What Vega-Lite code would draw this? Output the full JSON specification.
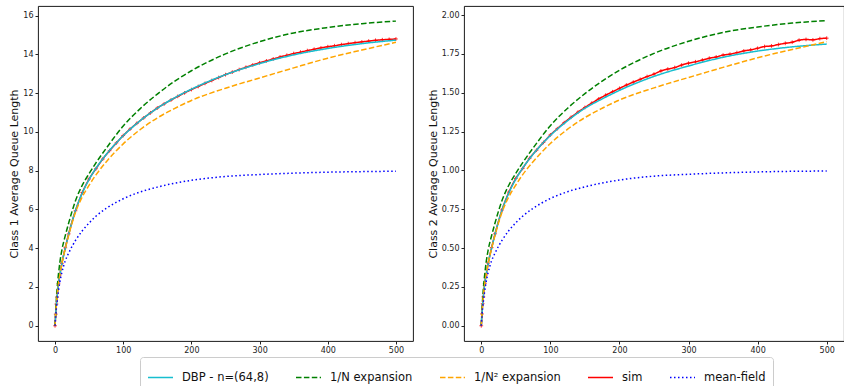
{
  "$schema": "https://vega.github.io/schema/vega-lite/v6.json",
  "padding": {"left": 8, "top": 5, "right": 0, "bottom": 0},
  "config": {
    "font": "DejaVu Sans",
    "view": {"stroke": "#000000", "strokeWidth": 0.9},
    "axis": {"grid": false, "domain": false, "labelFont": "DejaVu Sans", "labelFontSize": 8, "labelColor": "#222222", "tickColor": "#222222", "tickSize": 3, "labelPadding": 2, "titleFont": "DejaVu Sans", "titleFontSize": 11, "titleFontWeight": "normal", "titleColor": "#111111", "titlePadding": 3},
    "legend": {"labelFont": "DejaVu Sans", "labelFontSize": 11.5, "labelColor": "#111111"}
  },
  "datasets": {
    "curves": [
      {"s":"DBP - n=(64,8)","t":0,"a":0,"b":0},{"s":"DBP - n=(64,8)","t":1,"a":0.62,"b":0.078},{"s":"DBP - n=(64,8)","t":2,"a":1.1,"b":0.138},{"s":"DBP - n=(64,8)","t":3,"a":1.5,"b":0.188},{"s":"DBP - n=(64,8)","t":5,"a":2.15,"b":0.269},{"s":"DBP - n=(64,8)","t":7,"a":2.6,"b":0.325},{"s":"DBP - n=(64,8)","t":10,"a":3.2,"b":0.4},{"s":"DBP - n=(64,8)","t":15,"a":4.0,"b":0.5},{"s":"DBP - n=(64,8)","t":20,"a":4.72,"b":0.59},{"s":"DBP - n=(64,8)","t":30,"a":5.95,"b":0.744},{"s":"DBP - n=(64,8)","t":40,"a":6.85,"b":0.856},{"s":"DBP - n=(64,8)","t":50,"a":7.55,"b":0.944},{"s":"DBP - n=(64,8)","t":60,"a":8.12,"b":1.015},{"s":"DBP - n=(64,8)","t":75,"a":8.83,"b":1.104},{"s":"DBP - n=(64,8)","t":100,"a":9.8,"b":1.225},{"s":"DBP - n=(64,8)","t":125,"a":10.58,"b":1.32},{"s":"DBP - n=(64,8)","t":150,"a":11.22,"b":1.4},{"s":"DBP - n=(64,8)","t":175,"a":11.75,"b":1.46},{"s":"DBP - n=(64,8)","t":200,"a":12.2,"b":1.515},{"s":"DBP - n=(64,8)","t":250,"a":12.95,"b":1.605},{"s":"DBP - n=(64,8)","t":300,"a":13.52,"b":1.672},{"s":"DBP - n=(64,8)","t":350,"a":13.97,"b":1.728},{"s":"DBP - n=(64,8)","t":400,"a":14.3,"b":1.768},{"s":"DBP - n=(64,8)","t":450,"a":14.55,"b":1.795},{"s":"DBP - n=(64,8)","t":500,"a":14.73,"b":1.813},
      {"s":"1/N expansion","t":0,"a":0,"b":0},{"s":"1/N expansion","t":1,"a":0.75,"b":0.094},{"s":"1/N expansion","t":2,"a":1.4,"b":0.175},{"s":"1/N expansion","t":3,"a":1.9,"b":0.238},{"s":"1/N expansion","t":5,"a":2.65,"b":0.331},{"s":"1/N expansion","t":7,"a":3.25,"b":0.406},{"s":"1/N expansion","t":10,"a":3.9,"b":0.488},{"s":"1/N expansion","t":15,"a":4.65,"b":0.581},{"s":"1/N expansion","t":20,"a":5.3,"b":0.663},{"s":"1/N expansion","t":30,"a":6.45,"b":0.806},{"s":"1/N expansion","t":40,"a":7.25,"b":0.906},{"s":"1/N expansion","t":50,"a":7.85,"b":0.981},{"s":"1/N expansion","t":60,"a":8.4,"b":1.05},{"s":"1/N expansion","t":75,"a":9.15,"b":1.144},{"s":"1/N expansion","t":100,"a":10.3,"b":1.288},{"s":"1/N expansion","t":125,"a":11.2,"b":1.4},{"s":"1/N expansion","t":150,"a":11.95,"b":1.494},{"s":"1/N expansion","t":175,"a":12.6,"b":1.575},{"s":"1/N expansion","t":200,"a":13.15,"b":1.644},{"s":"1/N expansion","t":250,"a":14.02,"b":1.753},{"s":"1/N expansion","t":300,"a":14.65,"b":1.831},{"s":"1/N expansion","t":350,"a":15.1,"b":1.888},{"s":"1/N expansion","t":400,"a":15.38,"b":1.923},{"s":"1/N expansion","t":450,"a":15.58,"b":1.948},{"s":"1/N expansion","t":500,"a":15.71,"b":1.964},
      {"s":"1/N² expansion","t":0,"a":0,"b":0},{"s":"1/N² expansion","t":1,"a":0.62,"b":0.078},{"s":"1/N² expansion","t":2,"a":1.1,"b":0.138},{"s":"1/N² expansion","t":3,"a":1.5,"b":0.188},{"s":"1/N² expansion","t":5,"a":2.15,"b":0.269},{"s":"1/N² expansion","t":7,"a":2.6,"b":0.325},{"s":"1/N² expansion","t":10,"a":3.2,"b":0.4},{"s":"1/N² expansion","t":15,"a":3.98,"b":0.498},{"s":"1/N² expansion","t":20,"a":4.67,"b":0.584},{"s":"1/N² expansion","t":30,"a":5.85,"b":0.731},{"s":"1/N² expansion","t":40,"a":6.65,"b":0.831},{"s":"1/N² expansion","t":50,"a":7.25,"b":0.906},{"s":"1/N² expansion","t":60,"a":7.78,"b":0.973},{"s":"1/N² expansion","t":75,"a":8.45,"b":1.056},{"s":"1/N² expansion","t":100,"a":9.38,"b":1.173},{"s":"1/N² expansion","t":125,"a":10.12,"b":1.265},{"s":"1/N² expansion","t":150,"a":10.72,"b":1.34},{"s":"1/N² expansion","t":175,"a":11.2,"b":1.4},{"s":"1/N² expansion","t":200,"a":11.62,"b":1.453},{"s":"1/N² expansion","t":250,"a":12.25,"b":1.531},{"s":"1/N² expansion","t":300,"a":12.78,"b":1.598},{"s":"1/N² expansion","t":350,"a":13.3,"b":1.663},{"s":"1/N² expansion","t":400,"a":13.8,"b":1.725},{"s":"1/N² expansion","t":450,"a":14.22,"b":1.778},{"s":"1/N² expansion","t":500,"a":14.62,"b":1.828},
      {"s":"mean-field","t":0,"a":0,"b":0},{"s":"mean-field","t":1,"a":0.5,"b":0.063},{"s":"mean-field","t":2,"a":0.9,"b":0.113},{"s":"mean-field","t":3,"a":1.25,"b":0.156},{"s":"mean-field","t":5,"a":1.8,"b":0.225},{"s":"mean-field","t":7,"a":2.25,"b":0.281},{"s":"mean-field","t":10,"a":2.75,"b":0.344},{"s":"mean-field","t":15,"a":3.35,"b":0.419},{"s":"mean-field","t":20,"a":3.75,"b":0.469},{"s":"mean-field","t":30,"a":4.4,"b":0.55},{"s":"mean-field","t":40,"a":4.9,"b":0.613},{"s":"mean-field","t":50,"a":5.3,"b":0.663},{"s":"mean-field","t":60,"a":5.65,"b":0.706},{"s":"mean-field","t":75,"a":6.05,"b":0.756},{"s":"mean-field","t":100,"a":6.55,"b":0.819},{"s":"mean-field","t":125,"a":6.9,"b":0.863},{"s":"mean-field","t":150,"a":7.15,"b":0.894},{"s":"mean-field","t":175,"a":7.35,"b":0.919},{"s":"mean-field","t":200,"a":7.5,"b":0.938},{"s":"mean-field","t":250,"a":7.7,"b":0.963},{"s":"mean-field","t":300,"a":7.8,"b":0.975},{"s":"mean-field","t":350,"a":7.87,"b":0.984},{"s":"mean-field","t":400,"a":7.92,"b":0.99},{"s":"mean-field","t":450,"a":7.95,"b":0.994},{"s":"mean-field","t":500,"a":7.97,"b":0.996}
    ],
    "sim": [
      {"s":"sim","t":0,"a":0,"b":0},{"s":"sim","t":1,"a":0.6,"b":0.076},{"s":"sim","t":2,"a":1.12,"b":0.142},{"s":"sim","t":3,"a":1.48,"b":0.186},{"s":"sim","t":5,"a":2.17,"b":0.272},{"s":"sim","t":7,"a":2.62,"b":0.327},{"s":"sim","t":10,"a":3.22,"b":0.403},{"s":"sim","t":15,"a":4.02,"b":0.503},{"s":"sim","t":20,"a":4.74,"b":0.592},{"s":"sim","t":30,"a":5.93,"b":0.745},{"s":"sim","t":40,"a":6.87,"b":0.86},{"s":"sim","t":50,"a":7.57,"b":0.948},{"s":"sim","t":60,"a":8.1,"b":1.013},{"s":"sim","t":70,"a":8.6,"b":1.078},{"s":"sim","t":80,"a":9.03,"b":1.13},{"s":"sim","t":90,"a":9.43,"b":1.18},{"s":"sim","t":100,"a":9.81,"b":1.228},{"s":"sim","t":110,"a":10.14,"b":1.268},{"s":"sim","t":120,"a":10.44,"b":1.307},{"s":"sim","t":130,"a":10.72,"b":1.342},{"s":"sim","t":140,"a":10.98,"b":1.375},{"s":"sim","t":150,"a":11.23,"b":1.405},{"s":"sim","t":160,"a":11.44,"b":1.433},{"s":"sim","t":170,"a":11.64,"b":1.46},{"s":"sim","t":180,"a":11.83,"b":1.484},{"s":"sim","t":190,"a":12.01,"b":1.506},{"s":"sim","t":200,"a":12.18,"b":1.528},{"s":"sim","t":210,"a":12.34,"b":1.549},{"s":"sim","t":220,"a":12.5,"b":1.568},{"s":"sim","t":230,"a":12.65,"b":1.586},{"s":"sim","t":240,"a":12.8,"b":1.604},{"s":"sim","t":250,"a":12.95,"b":1.62},{"s":"sim","t":260,"a":13.08,"b":1.64},{"s":"sim","t":270,"a":13.21,"b":1.652},{"s":"sim","t":280,"a":13.33,"b":1.662},{"s":"sim","t":290,"a":13.45,"b":1.678},{"s":"sim","t":300,"a":13.56,"b":1.69},{"s":"sim","t":310,"a":13.66,"b":1.699},{"s":"sim","t":320,"a":13.76,"b":1.71},{"s":"sim","t":330,"a":13.86,"b":1.722},{"s":"sim","t":340,"a":13.95,"b":1.73},{"s":"sim","t":350,"a":14.04,"b":1.742},{"s":"sim","t":360,"a":14.11,"b":1.748},{"s":"sim","t":370,"a":14.19,"b":1.758},{"s":"sim","t":380,"a":14.26,"b":1.769},{"s":"sim","t":390,"a":14.33,"b":1.776},{"s":"sim","t":400,"a":14.39,"b":1.786},{"s":"sim","t":410,"a":14.44,"b":1.797},{"s":"sim","t":420,"a":14.5,"b":1.801},{"s":"sim","t":430,"a":14.55,"b":1.81},{"s":"sim","t":440,"a":14.6,"b":1.818},{"s":"sim","t":450,"a":14.64,"b":1.825},{"s":"sim","t":460,"a":14.68,"b":1.838},{"s":"sim","t":470,"a":14.72,"b":1.843},{"s":"sim","t":480,"a":14.75,"b":1.84},{"s":"sim","t":490,"a":14.77,"b":1.848},{"s":"sim","t":500,"a":14.79,"b":1.851}
    ]
  },
  "spacing": 12,
  "resolve": {"scale": {"color": "shared", "strokeDash": "shared"}},
  "hconcat": [
    {
      "width": 375, "height": 335,
      "layer": [
        {
          "data": {"name": "sim"},
          "mark": {"type": "line", "strokeWidth": 1.5, "interpolate": "monotone"},
          "encoding": {
            "x": {"field": "t", "type": "quantitative", "scale": {"domain": [-25, 525], "nice": false, "zero": false}, "axis": {"values": [0,100,200,300,400,500], "title": null}},
            "y": {"field": "a", "type": "quantitative", "scale": {"domain": [-0.785, 16.49], "nice": false, "zero": false}, "axis": {"values": [0,2,4,6,8,10,12,14,16], "title": "Class 1 Average Queue Length"}},
            "color": {"field": "s", "type": "nominal", "scale": {"domain": ["DBP - n=(64,8)","1/N expansion","1/N² expansion","sim","mean-field"], "range": ["#17becf","#008000","#ffa500","#ff0000","#0000ff"]}, "legend": {"title": null, "orient": "none", "legendX": 102, "legendY": 351, "direction": "horizontal", "symbolType": "stroke", "symbolSize": 625, "symbolStrokeWidth": 1.5, "labelOffset": 8, "columnPadding": 24, "padding": 7, "strokeColor": "#cccccc", "fillColor": "#ffffff", "cornerRadius": 3}},
            "strokeDash": {"field": "s", "type": "nominal", "scale": {"domain": ["DBP - n=(64,8)","1/N expansion","1/N² expansion","sim","mean-field"], "range": [[1,0],[5.5,2.4],[5.5,2.4],[1,0],[1.5,2.5]]}, "legend": {"title": null}}
          }
        },
        {
          "data": {"name": "sim"},
          "mark": {"type": "point", "shape": "M-1,0H1M0,-1V1", "filled": false, "stroke": "#ff0000", "strokeWidth": 0.8, "size": 14, "opacity": 1},
          "encoding": {"x": {"field": "t", "type": "quantitative"}, "y": {"field": "a", "type": "quantitative"}}
        },
        {
          "data": {"name": "curves"},
          "mark": {"type": "line", "strokeWidth": 1.5, "interpolate": "monotone"},
          "encoding": {
            "x": {"field": "t", "type": "quantitative"},
            "y": {"field": "a", "type": "quantitative"},
            "color": {"field": "s", "type": "nominal"},
            "strokeDash": {"field": "s", "type": "nominal"}
          }
        }
      ]
    },
    {
      "width": 380, "height": 335,
      "layer": [
        {
          "data": {"name": "sim"},
          "mark": {"type": "line", "strokeWidth": 1.5, "interpolate": "monotone"},
          "encoding": {
            "x": {"field": "t", "type": "quantitative", "scale": {"domain": [-25, 525], "nice": false, "zero": false}, "axis": {"values": [0,100,200,300,400,500], "title": null}},
            "y": {"field": "b", "type": "quantitative", "scale": {"domain": [-0.098, 2.058], "nice": false, "zero": false}, "axis": {"values": [0,0.25,0.5,0.75,1,1.25,1.5,1.75,2], "format": ".2f", "title": "Class 2 Average Queue Length"}},
            "color": {"field": "s", "type": "nominal"},
            "strokeDash": {"field": "s", "type": "nominal"}
          }
        },
        {
          "data": {"name": "sim"},
          "mark": {"type": "point", "shape": "M-1,0H1M0,-1V1", "filled": false, "stroke": "#ff0000", "strokeWidth": 0.8, "size": 14, "opacity": 1},
          "encoding": {"x": {"field": "t", "type": "quantitative"}, "y": {"field": "b", "type": "quantitative"}}
        },
        {
          "data": {"name": "curves"},
          "mark": {"type": "line", "strokeWidth": 1.5, "interpolate": "monotone"},
          "encoding": {
            "x": {"field": "t", "type": "quantitative"},
            "y": {"field": "b", "type": "quantitative"},
            "color": {"field": "s", "type": "nominal"},
            "strokeDash": {"field": "s", "type": "nominal"}
          }
        }
      ]
    }
  ]
}
